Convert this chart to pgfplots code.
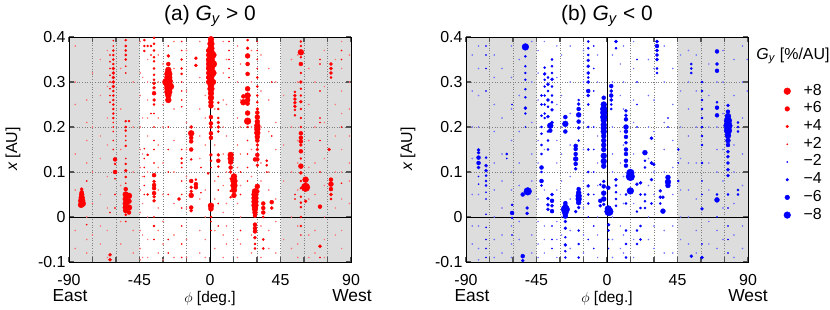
\documentclass[border=0pt]{standalone}
\usepackage{fontspec}
\setmainfont{Liberation Sans}
\usepackage{pgfplots}
\usepackage{pgfplotstable}
\pgfplotsset{compat=1.18}
\definecolor{shade}{RGB}{221,221,221}
\definecolor{tickc}{RGB}{85,85,85}
\definecolor{gridc}{RGB}{128,128,128}

% ---------- panel (a): G_y > 0 ----------
\pgfplotstableread[row sep=\\]{
p x g\\
-81.9 0.062 4\\ -81.9 0.055 5\\ -81.9 0.050 6\\ -81.9 0.043 7\\ -81.9 0.036 8\\ -81.5 0.030 8\\ -82.3 0.027 7\\
-78.7 0.08 2\\ -78.7 -0.017 2\\
-63.8 0.36 2\\ -63.8 0.345 2\\ -63.8 0.33 2\\ -63.8 0.315 2\\ -63.8 0.30 2\\ -63.8 0.285 2\\ -63.8 0.27 2\\ -63.8 0.255 2\\ -63.8 -0.084 4\\ -63.8 -0.095 4\\ -63.8 0.01 2\\
-61.7 0.392 2\\ -61.7 0.38 2\\ -61.7 0.37 3\\ -61.7 0.36 3\\ -61.7 0.35 3\\ -61.7 0.34 3\\ -61.7 0.33 4\\ -61.7 0.32 4\\ -61.7 0.31 4\\ -61.7 0.30 4\\ -61.7 0.29 4\\ -61.7 0.28 3\\ -61.7 0.27 3\\ -61.7 0.26 3\\ -61.7 0.25 3\\ -61.7 0.24 3\\ -61.7 0.23 3\\ -61.7 0.22 3\\ -61.7 0.21 2\\ -61.7 0.20 2\\ -61.7 0.19 2\\ -61.7 0.17 2\\ -61.7 0.15 2\\
-60.6 0.128 5\\ -60.6 0.118 3\\ -60.6 0.10 5\\ -60.6 0.085 2\\ -60.6 0.05 2\\ -60.6 0.02 2\\
-53.8 0.393 3\\ -53.8 0.38 3\\ -53.8 0.37 3\\ -53.8 0.36 3\\ -53.8 0.35 3\\ -53.8 0.335 2\\ -53.8 0.32 2\\ -53.8 0.213 3\\ -53.8 0.20 3\\ -53.8 0.192 3\\ -53.8 0.18 2\\ -53.8 0.17 2\\ -53.8 0.158 3\\ -53.8 0.13 2\\ -53.8 0.118 3\\ -53.8 0.103 4\\ -53.8 0.089 3\\ -53.8 0.075 2\\ -53.8 0.062 5\\ -53.8 0.05 7\\ -53.8 0.04 7\\ -53.8 0.03 7\\ -53.8 0.021 7\\ -53.8 0.014 6\\ -53.8 0.005 3\\ -53.8 -0.01 2\\
-51.7 0.213 3\\ -51.7 0.047 7\\ -51.7 0.035 6\\ -51.7 0.021 7\\ -51.7 0.01 5\\
-41.9 0.393 3\\ -41.9 0.38 3\\ -41.9 0.369 3\\ -41.9 0.152 2\\ -41.9 0.13 2\\ -41.9 0.11 2\\ -41.9 0.09 2\\ -41.9 0.07 2\\ -41.9 0.05 2\\
-39.8 0.38 3\\ -39.8 0.138 3\\ -39.8 0.05 3\\
-37.7 0.38 3\\ -37.7 0.36 2\\ -37.7 0.23 2\\
-35.7 0.398 3\\ -35.7 0.385 3\\ -35.7 0.37 3\\ -35.7 0.355 3\\ -35.7 0.346 3\\ -35.7 0.33 3\\ -35.7 0.316 3\\ -35.7 0.305 3\\ -35.7 0.297 4\\ -35.7 0.287 4\\ -35.7 0.275 5\\ -35.7 0.26 4\\ -35.7 0.25 3\\ -35.7 0.23 2\\ -35.7 0.2 2\\ -35.7 0.17 2\\ -35.7 0.15 2\\ -35.7 0.12 2\\ -35.7 0.093 5\\ -35.7 0.079 4\\ -35.7 0.071 5\\ -35.7 0.064 5\\ -35.7 0.053 5\\ -35.7 0.045 4\\ -35.7 0.036 4\\ -35.7 0.0 2\\ -35.7 -0.02 3\\ -35.7 -0.05 2\\
-26.6 0.358 4\\ -26.6 0.34 5\\ -26.6 0.327 7\\ -26.6 0.318 9\\ -26.6 0.31 9\\ -26.6 0.302 10\\ -26.6 0.294 10\\ -26.6 0.286 9\\ -26.6 0.278 9\\ -26.6 0.27 7\\ -26.6 0.26 7\\ -28.2 0.30 8\\ -25.2 0.29 8\\ -26.6 0.38 2\\ -26.6 0.2 2\\ -26.6 0.15 2\\ -26.6 0.1 2\\ -26.6 0.05 2\\ -26.6 -0.05 2\\ -26.6 -0.08 2\\
-18.1 0.39 2\\ -18.1 0.37 2\\ -18.1 0.35 3\\ -18.1 0.33 3\\ -18.1 0.318 3\\ -18.1 0.30 2\\ -18.1 0.28 2\\ -18.1 0.26 2\\ -18.1 0.245 2\\ -18.1 0.15 2\\ -18.1 0.13 3\\ -18.1 0.12 3\\ -18.1 0.11 2\\ -18.1 0.08 2\\ -18.1 0.05 2\\ -18.1 0.02 2\\ -18.1 -0.02 2\\ -18.1 -0.06 2\\ -18.1 -0.09 2\\
-19.8 0.04 4\\
-12.0 0.20 4\\ -12.0 0.186 7\\ -12.0 0.176 5\\ -12.0 0.168 5\\ -12.0 0.15 5\\ -12.0 0.128 3\\ -12.0 0.08 5\\ -12.0 0.066 4\\ -12.0 0.057 4\\ -12.0 0.048 6\\ -12.0 0.021 5\\ -12.0 0.014 4\\
-9.0 0.353 4\\ -9.0 0.337 4\\ -9.0 0.083 3\\ -9.0 0.073 5\\ -9.0 0.066 5\\
-5.8 0.11 2\\ -5.8 0.054 2\\
-1.2 0.37 5\\ -1.2 0.36 5\\ -1.2 0.35 5\\ -1.2 0.34 5\\ -1.2 0.33 5\\ -1.2 0.32 5\\ -1.2 0.31 5\\ -1.2 0.30 5\\ -1.2 0.097 3\\
0.6 0.395 7\\ 0.6 0.385 8\\ 0.6 0.375 8\\ 0.6 0.365 9\\ 0.6 0.355 9\\ 0.6 0.345 10\\ 0.6 0.335 10\\ 0.6 0.325 9\\ 0.6 0.315 9\\ 0.6 0.305 8\\ 0.6 0.295 8\\ 0.6 0.285 8\\ 0.6 0.275 7\\ 0.6 0.265 7\\ 0.6 0.255 6\\ 0.6 0.247 6\\ 0.6 0.222 5\\ 0.6 0.208 5\\ 0.6 0.2 4\\ 0.6 0.186 5\\ 0.6 0.176 5\\ 0.6 0.138 4\\ 0.6 0.125 3\\ 0.6 0.11 2\\ 0.6 0.025 7\\ 0.6 0.018 6\\ 0.6 0.0 3\\ 0.6 -0.01 2\\ 0.6 -0.03 2\\
2.2 0.36 7\\ 2.2 0.34 8\\ 2.2 0.32 7\\ 2.2 0.30 6\\
5.3 0.254 3\\ 5.3 0.24 3\\ 5.3 0.22 3\\ 5.3 0.21 4\\ 5.3 0.20 4\\ 5.3 0.19 3\\ 5.3 0.138 4\\ 5.3 0.125 5\\ 5.3 0.112 3\\ 5.3 0.09 2\\ 5.3 0.06 2\\ 5.3 0.03 2\\ 5.3 -0.02 2\\
12.1 0.39 2\\ 12.1 0.37 2\\ 12.1 0.35 2\\ 12.1 0.33 2\\ 12.1 0.31 2\\
13.2 0.138 7\\ 13.2 0.13 7\\ 13.2 0.122 6\\ 13.2 0.11 5\\ 13.2 0.10 4\\ 13.2 0.085 3\\ 13.2 0.058 3\\ 13.2 0.044 3\\
15.3 0.09 7\\ 15.3 0.08 8\\ 15.3 0.07 8\\ 15.3 0.06 7\\ 15.3 0.048 6\\
19.5 0.1 2\\ 19.5 0.05 2\\ 19.5 -0.03 2\\
21.3 0.268 5\\ 21.3 0.255 7\\
24.0 0.393 3\\ 24.0 0.375 4\\ 24.0 0.358 6\\ 24.0 0.34 5\\ 24.0 0.318 5\\ 24.0 0.285 6\\ 24.0 0.27 7\\ 24.0 0.26 6\\ 24.0 0.252 5\\ 24.0 0.231 6\\ 24.0 0.213 8\\ 24.0 0.2 3\\ 24.0 0.17 2\\ 24.0 0.14 2\\ 24.0 0.11 2\\ 24.0 0.08 2\\
30.2 0.39 2\\ 30.2 0.37 2\\ 30.2 0.35 2\\ 30.2 0.33 2\\ 30.2 0.31 3\\ 30.2 0.29 3\\ 30.2 0.27 3\\ 30.2 0.255 3\\ 30.2 0.24 4\\ 30.2 0.232 5\\ 30.2 0.222 6\\ 30.2 0.212 6\\ 30.2 0.203 7\\ 30.2 0.195 7\\ 30.2 0.187 7\\ 30.2 0.178 6\\ 30.2 0.17 5\\ 30.2 0.16 4\\ 30.2 0.15 4\\ 30.2 0.138 5\\ 30.2 0.128 5\\ 30.2 0.115 4\\ 30.2 0.068 6\\ 30.2 0.057 5\\
28.7 0.128 5\\ 28.7 0.057 7\\ 28.7 0.05 8\\ 28.7 0.042 8\\ 28.7 0.034 8\\ 28.7 0.026 8\\ 28.7 0.018 7\\ 28.7 0.01 6\\ 28.7 0.003 5\\ 28.7 -0.017 5\\ 28.7 -0.025 5\\ 28.7 -0.032 5\\ 28.7 -0.046 4\\ 28.7 -0.06 3\\ 28.7 -0.07 3\\
34.0 0.03 5\\ 34.0 0.02 5\\ 34.0 0.01 5\\ 34.0 0.0 3\\ 34.0 -0.05 3\\ 34.0 -0.07 3\\
36.2 0.125 3\\ 36.2 0.115 3\\ 36.2 0.1 2\\
39.4 0.033 5\\ 39.4 0.02 4\\ 39.4 0.18 2\\ 39.4 0.3 2\\
54.2 0.278 3\\ 54.2 0.27 4\\ 54.2 0.262 4\\ 54.2 0.254 4\\ 54.2 0.246 4\\ 54.2 0.238 3\\ 54.2 0.226 3\\ 54.2 0.05 2\\ 54.2 0.04 2\\
58.0 0.39 3\\ 58.0 0.38 3\\ 58.0 0.366 7\\ 58.0 0.355 3\\ 58.0 0.34 5\\ 58.0 0.32 3\\ 58.0 0.30 4\\ 58.0 0.285 3\\ 58.0 0.27 3\\ 58.0 0.256 4\\ 58.0 0.24 3\\ 58.0 0.22 3\\ 58.0 0.2 3\\ 58.0 0.186 5\\ 58.0 0.176 5\\ 58.0 0.168 5\\ 58.0 0.16 4\\ 58.0 0.146 5\\ 58.0 0.13 3\\ 58.0 0.113 6\\ 58.0 0.098 4\\ 58.0 0.08 3\\ 58.0 0.064 3\\ 58.0 0.045 3\\ 58.0 0.032 3\\ 58.0 0.022 3\\ 58.0 0.0 3\\ 58.0 -0.02 3\\ 58.0 -0.04 2\\
61.0 0.083 7\\ 61.0 0.066 10\\ 61.0 0.035 4\\
70.2 0.35 2\\ 70.2 0.34 2\\ 70.2 0.28 2\\ 70.2 0.22 2\\ 70.2 0.21 2\\ 70.2 0.17 2\\ 70.2 0.1 2\\ 70.2 0.023 5\\ 70.2 -0.065 4\\ 70.2 -0.09 2\\
76.0 0.15 4\\
77.2 0.34 4\\ 77.2 0.33 4\\ 77.2 0.32 4\\ 77.2 0.31 3\\ 77.2 0.083 5\\ 77.2 0.073 6\\ 77.2 0.062 5\\ 77.2 0.05 4\\ 77.2 0.04 3\\
84.0 0.37 2\\ 84.0 0.35 2\\ 84.0 0.2 2\\ 84.0 0.075 2\\
}\tabA

\pgfplotstableread[row sep=\\]{
p x\\
-86 0.38\\ -86 0.3\\ -86 0.25\\ -86 0.14\\ -86 0.06\\ -86 -0.03\\ -86 -0.07\\
-78.7 0.26\\ -78.7 0.21\\ -78.7 0.17\\ -78.7 0.12\\ -78.7 0.0\\ -78.7 -0.05\\ -78.7 -0.08\\
-75 0.32\\ -75 0.2\\ -75 0.1\\ -75 0.03\\ -75 -0.04\\
-70 0.35\\ -70 0.27\\ -70 0.18\\ -70 0.13\\ -70 0.05\\ -70 -0.02\\ -70 -0.06\\
-65.5 0.37\\ -65.5 0.29\\ -65.5 0.22\\ -65.5 0.16\\ -65.5 0.09\\ -65.5 0.02\\ -65.5 -0.03\\ -65.5 -0.09\\
-57 0.33\\ -57 0.24\\ -57 0.15\\ -57 0.07\\ -57 -0.01\\ -57 -0.06\\
-49 0.3\\ -49 0.2\\ -49 0.1\\ -49 -0.03\\ -49 -0.08\\
-44.5 0.39\\ -44.5 0.32\\ -44.5 0.27\\ -44.5 0.2\\ -44.5 0.15\\ -44.5 0.11\\ -44.5 0.06\\ -44.5 0.01\\ -44.5 -0.03\\ -44.5 -0.07\\ -44.5 -0.095\\
-43 0.31\\ -43 0.22\\ -43 0.14\\ -43 0.09\\ -43 0.03\\ -43 -0.04\\ -43 -0.09\\
-39.8 0.35\\ -39.8 0.3\\ -39.8 0.26\\ -39.8 0.22\\ -39.8 0.18\\ -39.8 0.1\\ -39.8 0.0\\ -39.8 -0.05\\ -39.8 -0.09\\
-33 0.36\\ -33 0.3\\ -33 0.22\\ -33 0.16\\ -33 0.11\\ -33 0.06\\ -33 0.02\\ -33 -0.03\\ -33 -0.08\\
-30 0.34\\ -30 0.25\\ -30 0.2\\ -30 0.12\\ -30 0.05\\ -30 -0.01\\ -30 -0.06\\ -30 -0.095\\
-23 0.39\\ -23 0.33\\ -23 0.24\\ -23 0.17\\ -23 0.1\\ -23 0.03\\ -23 -0.04\\ -23 -0.09\\
-15 0.37\\ -15 0.28\\ -15 0.21\\ -15 0.15\\ -15 0.09\\ -15 0.02\\ -15 -0.05\\ -15 -0.09\\
-6.5 0.39\\ -6.5 0.31\\ -6.5 0.24\\ -6.5 0.18\\ -6.5 0.13\\ -6.5 0.04\\ -6.5 -0.03\\ -6.5 -0.08\\
-3 0.27\\ -3 0.22\\ -3 0.16\\ -3 0.06\\ -3 0.0\\ -3 -0.05\\ -3 -0.09\\
3 0.24\\ 3 0.16\\ 3 0.08\\ 3 0.04\\ 3 -0.03\\ 3 -0.07\\
8.5 0.39\\ 8.5 0.32\\ 8.5 0.26\\ 8.5 0.2\\ 8.5 0.14\\ 8.5 0.07\\ 8.5 0.01\\ 8.5 -0.04\\ 8.5 -0.09\\
10.5 0.35\\ 10.5 0.25\\ 10.5 0.18\\ 10.5 0.1\\ 10.5 0.03\\ 10.5 -0.02\\ 10.5 -0.06\\
17.5 0.38\\ 17.5 0.3\\ 17.5 0.22\\ 17.5 0.16\\ 17.5 0.11\\ 17.5 0.03\\ 17.5 -0.05\\ 17.5 -0.09\\
19.5 0.34\\ 19.5 0.26\\ 19.5 0.2\\ 19.5 0.14\\ 19.5 0.07\\ 19.5 0.0\\ 19.5 -0.06\\
26.5 0.37\\ 26.5 0.3\\ 26.5 0.2\\ 26.5 0.15\\ 26.5 0.09\\ 26.5 -0.04\\ 26.5 -0.08\\
32.5 0.36\\ 32.5 0.28\\ 32.5 0.2\\ 32.5 0.12\\ 32.5 0.08\\ 32.5 -0.02\\ 32.5 -0.09\\
37.5 0.33\\ 37.5 0.26\\ 37.5 0.19\\ 37.5 0.1\\ 37.5 0.06\\ 37.5 -0.03\\ 37.5 -0.07\\
42 0.3\\ 42 0.21\\ 42 0.15\\ 42 0.04\\ 42 -0.01\\ 42 -0.08\\
47 0.27\\ 47 0.16\\ 47 0.08\\ 47 -0.05\\
52 0.35\\ 52 0.2\\ 52 0.1\\ 52 0.0\\ 52 -0.07\\
56 0.36\\ 56 0.3\\ 56 0.17\\ 56 0.12\\ 56 0.06\\ 56 -0.02\\ 56 -0.06\\ 56 -0.09\\
63 0.33\\ 63 0.25\\ 63 0.17\\ 63 0.11\\ 63 0.04\\ 63 -0.04\\ 63 -0.09\\
67 0.3\\ 67 0.2\\ 67 0.12\\ 67 0.05\\ 67 -0.03\\ 67 -0.08\\
73 0.37\\ 73 0.29\\ 73 0.21\\ 73 0.13\\ 73 0.07\\ 73 0.0\\ 73 -0.05\\ 73 -0.09\\
80 0.35\\ 80 0.25\\ 80 0.18\\ 80 0.1\\ 80 0.02\\ 80 -0.04\\
84 0.39\\ 84 0.33\\ 84 0.28\\ 84 0.23\\ 84 0.15\\ 84 0.1\\ 84 0.04\\ 84 -0.03\\ 84 -0.07\\
89 0.36\\ 89 0.3\\ 89 0.24\\ 89 0.18\\ 89 0.12\\ 89 0.08\\ 89 0.03\\
}\faintA

% ---------- panel (b): G_y < 0 ----------
\pgfplotstableread[row sep=\\]{
p x g\\
-82.0 0.149 4\\ -82.0 0.143 4\\ -82.0 0.132 5\\ -82.0 0.12 5\\ -82.0 0.11 4\\ -82.0 0.09 2\\ -82.0 0.073 2\\
-77.2 0.132 3\\ -77.2 0.114 4\\ -77.2 0.103 4\\ -77.2 0.092 3\\ -77.2 0.08 3\\ -77.2 0.07 3\\ -77.2 0.055 2\\ -77.2 0.04 2\\ -77.2 0.006 2\\ -77.2 -0.023 2\\ -77.2 -0.05 2\\ -77.2 -0.07 2\\ -77.2 -0.09 2\\ -77.2 0.38 2\\ -77.2 0.36 2\\ -77.2 0.33 2\\ -77.2 0.28 2\\
-64.0 0.14 3\\ -64.0 0.13 2\\
-60.6 0.027 3\\ -60.6 0.009 5\\ -60.6 -0.002 3\\ -60.6 -0.04 2\\ -60.6 0.25 2\\
-53.8 0.05 5\\ -53.8 -0.087 5\\ -53.8 -0.097 4\\
-52.1 0.378 8\\ -52.1 0.357 3\\ -52.1 0.335 3\\ -52.1 0.32 3\\ -52.1 0.305 3\\ -52.1 0.284 3\\ -52.1 0.266 3\\ -52.1 0.242 4\\ -52.1 0.23 3\\ -52.1 0.2 2\\
-50.6 0.057 9\\
-51.0 0.02 4\\ -51.0 0.008 4\\
-41.8 0.27 3\\ -41.8 0.25 3\\ -41.8 0.225 3\\ -41.8 0.2 3\\ -41.8 0.185 3\\ -41.8 0.16 3\\ -41.8 0.14 3\\ -41.8 0.11 5\\ -41.8 0.1 3\\ -41.8 0.08 5\\ -41.8 0.07 3\\
-39.8 0.332 3\\ -39.8 0.318 4\\ -39.8 0.305 3\\ -39.8 0.29 3\\ -39.8 0.27 3\\ -39.8 0.25 3\\ -39.8 0.23 3\\ -39.8 0.22 3\\
-37.7 0.31 3\\ -37.7 0.295 4\\ -37.7 0.28 3\\ -37.7 0.26 4\\ -37.7 0.245 3\\ -37.7 0.223 4\\ -37.7 0.19 3\\ -37.7 0.17 3\\ -37.7 0.15 3\\ -37.7 0.041 4\\ -37.7 0.027 4\\ -37.7 0.017 4\\
-36.2 0.203 7\\ -36.2 0.192 5\\
-35.1 0.35 3\\ -35.1 0.335 3\\ -35.1 0.32 3\\ -35.1 0.306 4\\ -35.1 0.29 3\\ -35.1 0.27 3\\ -35.1 0.255 3\\ -35.1 0.238 4\\ -35.1 0.21 4\\ -35.1 0.05 4\\ -35.1 0.036 5\\ -35.1 0.025 4\\ -35.1 0.013 5\\ -35.1 -0.02 2\\ -35.1 -0.05 2\\ -35.1 -0.07 2\\
-26.6 0.222 5\\ -26.6 0.207 7\\ -26.6 0.19 5\\ -26.6 0.031 5\\ -26.6 0.024 6\\ -26.6 0.017 10\\ -26.6 0.009 7\\ -26.6 0.002 6\\ -26.6 -0.01 4\\ -26.6 -0.025 4\\ -26.6 -0.045 3\\ -26.6 -0.062 4\\ -26.6 -0.076 3\\ -26.6 -0.09 3\\
-20.0 0.158 5\\ -20.0 0.151 5\\ -20.0 0.14 5\\ -20.0 0.129 6\\ -20.0 0.118 5\\ -20.0 0.107 4\\ -20.0 0.012 4\\
-18.1 0.26 3\\ -18.1 0.251 4\\ -18.1 0.24 5\\ -18.1 0.227 6\\ -18.1 0.212 5\\ -18.1 0.198 4\\ -18.1 0.17 3\\ -18.1 0.062 5\\ -18.1 0.054 6\\ -18.1 0.047 7\\ -18.1 0.04 7\\ -18.1 0.032 6\\ -18.1 0.021 4\\ -18.1 -0.03 3\\ -18.1 -0.06 3\\ -18.1 -0.09 3\\
-12.0 0.39 3\\ -12.0 0.375 3\\ -12.0 0.36 3\\ -12.0 0.348 4\\ -12.0 0.335 4\\ -12.0 0.32 4\\ -12.0 0.31 3\\ -12.0 0.3 4\\ -12.0 0.28 5\\ -12.0 0.27 4\\ -12.0 0.25 3\\ -12.0 0.2 3\\ -12.0 0.15 3\\ -12.0 0.1 3\\ -12.0 0.069 4\\ -12.0 0.05 3\\ -12.0 0.03 3\\ -12.0 0.0 2\\ -12.0 -0.05 2\\
-8.5 0.38 2\\ -8.5 0.33 2\\ -8.5 0.28 2\\ -8.5 0.2 2\\ -8.5 0.15 2\\ -8.5 0.1 2\\ -8.5 0.05 2\\ -8.5 -0.02 2\\ -8.5 -0.07 2\\
-2.1 0.265 5\\ -2.1 0.25 7\\ -2.1 0.24 8\\ -2.1 0.232 8\\ -2.1 0.222 8\\ -2.1 0.215 7\\ -2.1 0.205 7\\ -2.1 0.198 7\\ -2.1 0.19 7\\ -2.1 0.18 6\\ -2.1 0.17 6\\ -2.1 0.16 6\\ -2.1 0.15 6\\ -2.1 0.136 7\\ -2.1 0.124 7\\ -2.1 0.113 6\\ -2.1 0.079 4\\ -2.1 0.068 5\\ -2.1 0.053 6\\ -2.1 0.04 6\\ -2.1 0.028 4\\
-4.3 0.036 5\\ -4.3 0.025 4\\ -4.3 0.072 3\\
0.8 0.018 8\\ 1.2 0.012 10\\ 0.8 0.065 5\\
1.0 -0.017 4\\ 1.0 -0.03 3\\ 1.0 -0.05 2\\ 1.0 -0.07 2\\
2.7 0.291 5\\ 2.7 0.28 4\\ 2.7 0.27 5\\ 2.7 0.26 4\\ 2.7 0.25 3\\ 2.7 0.24 3\\
5.7 0.39 4\\ 5.7 0.375 3\\ 5.7 0.083 4\\ 5.7 0.07 3\\ 5.7 0.055 3\\ 5.7 0.04 3\\ 5.7 0.025 3\\
12.1 0.236 4\\ 12.1 0.226 4\\ 12.1 0.217 5\\ 12.1 0.2 6\\ 12.1 0.19 5\\ 12.1 0.178 5\\ 12.1 0.165 4\\ 12.1 0.15 5\\ 12.1 0.14 5\\ 12.1 0.125 5\\ 12.1 0.114 5\\ 12.1 0.05 3\\ 12.1 0.03 3\\ 12.1 -0.03 3\\ 12.1 -0.06 3\\ 12.1 -0.09 3\\
14.9 0.098 9\\ 14.9 0.09 10\\ 14.9 0.058 8\\
19.1 0.35 2\\ 19.1 0.3 2\\ 19.1 0.25 2\\ 19.1 0.2 2\\ 19.1 0.073 4\\ 19.1 0.012 3\\ 19.1 -0.03 3\\ 19.1 -0.06 3\\
21.4 0.076 4\\ 21.4 0.05 3\\ 21.4 0.02 3\\ 21.4 -0.02 3\\ 21.4 -0.05 3\\
24.2 0.143 6\\ 24.2 0.125 3\\ 24.2 0.11 3\\ 24.2 0.05 3\\ 24.2 0.035 3\\ 24.2 0.02 3\\
28.4 0.175 4\\ 28.4 0.12 4\\ 28.4 0.083 4\\ 28.4 0.03 3\\
29.8 0.117 4\\
31.9 0.39 4\\ 31.9 0.38 5\\ 31.9 0.37 4\\ 31.9 0.36 4\\ 31.9 0.35 4\\ 31.9 0.33 3\\ 31.9 0.32 3\\
34.0 0.058 4\\ 34.0 0.044 4\\ 34.0 0.03 3\\
35.7 0.044 4\\ 35.7 0.013 6\\
38.9 0.088 6\\ 38.9 0.078 7\\ 38.9 0.07 6\\ 38.9 0.22 2\\ 38.9 0.2 2\\
45.5 0.15 3\\ 45.5 0.12 2\\ 45.5 0.08 3\\
53.8 0.34 3\\ 53.8 0.33 3\\ 53.8 0.32 3\\ 53.8 -0.087 4\\
60.6 0.3 3\\ 60.6 0.28 3\\ 60.6 0.26 3\\ 60.6 0.24 3\\ 60.6 0.22 3\\ 60.6 0.2 3\\ 60.6 0.18 3\\ 60.6 0.16 3\\ 60.6 0.12 3\\ 60.6 0.08 2\\ 60.6 0.05 2\\ 60.6 0.018 4\\ 60.6 -0.06 2\\ 60.6 -0.09 4\\
70.2 0.368 5\\ 70.2 0.34 4\\ 70.2 0.325 5\\ 70.2 0.255 3\\ 70.2 0.243 5\\ 70.2 0.226 5\\ 70.2 0.05 3\\ 70.2 0.038 6\\ 70.2 0.0 2\\
77.2 0.248 4\\ 77.2 0.234 5\\ 77.2 0.224 7\\ 77.2 0.214 9\\ 77.2 0.203 10\\ 77.2 0.192 9\\ 77.2 0.181 7\\ 77.2 0.17 6\\ 77.2 0.16 5\\ 77.2 0.145 4\\ 77.2 0.134 4\\ 77.2 0.12 4\\ 77.2 0.105 4\\ 77.2 0.092 4\\ 77.2 0.05 3\\ 77.2 0.02 2\\ 77.2 -0.02 2\\ 77.2 -0.05 2\\ 77.2 -0.08 2\\
83.6 0.2 3\\ 83.6 0.21 3\\ 83.6 0.19 3\\ 83.6 0.06 3\\ 83.6 0.05 3\\
}\tabB

\pgfplotstableread[row sep=\\]{
p x\\
-86 0.36\\ -86 0.28\\ -86 0.2\\ -86 0.13\\ -86 0.05\\ -86 -0.02\\ -86 -0.06\\
-82 0.38\\ -82 0.33\\ -82 0.27\\ -82 0.2\\ -82 0.05\\ -82 -0.02\\ -82 -0.07\\ -82 -0.095\\
-72 0.36\\ -72 0.31\\ -72 0.25\\ -72 0.19\\ -72 0.12\\ -72 0.06\\ -72 0.0\\ -72 -0.05\\ -72 -0.09\\
-67 0.33\\ -67 0.22\\ -67 0.14\\ -67 0.08\\ -67 0.02\\ -67 -0.04\\ -67 -0.08\\
-61 0.38\\ -61 0.31\\ -61 0.24\\ -61 0.17\\ -61 0.1\\ -61 0.06\\ -61 -0.02\\ -61 -0.06\\ -61 -0.09\\
-56 0.35\\ -56 0.27\\ -56 0.19\\ -56 0.12\\ -56 0.07\\ -56 -0.01\\ -56 -0.05\\
-48 0.39\\ -48 0.3\\ -48 0.21\\ -48 0.14\\ -48 0.08\\ -48 -0.04\\ -48 -0.08\\
-44 0.37\\ -44 0.32\\ -44 0.26\\ -44 0.17\\ -44 0.12\\ -44 0.04\\ -44 -0.01\\ -44 -0.06\\ -44 -0.09\\
-40 0.39\\ -40 0.15\\ -40 0.06\\ -40 -0.02\\ -40 -0.05\\ -40 -0.08\\
-32 0.38\\ -32 0.31\\ -32 0.25\\ -32 0.17\\ -32 0.12\\ -32 0.06\\ -32 -0.01\\ -32 -0.05\\ -32 -0.09\\
-29 0.36\\ -29 0.27\\ -29 0.2\\ -29 0.14\\ -29 0.08\\ -29 0.0\\ -29 -0.04\\
-23.5 0.38\\ -23.5 0.3\\ -23.5 0.23\\ -23.5 0.16\\ -23.5 0.09\\ -23.5 0.04\\ -23.5 -0.03\\ -23.5 -0.07\\
-15 0.37\\ -15 0.3\\ -15 0.21\\ -15 0.15\\ -15 0.08\\ -15 0.02\\ -15 -0.04\\ -15 -0.08\\
-6 0.36\\ -6 0.3\\ -6 0.18\\ -6 0.12\\ -6 0.07\\ -6 0.0\\ -6 -0.04\\ -6 -0.09\\
3.5 0.36\\ 3.5 0.3\\ 3.5 0.2\\ 3.5 0.14\\ 3.5 0.1\\ 3.5 0.0\\ 3.5 -0.05\\ 3.5 -0.09\\
8.5 0.34\\ 8.5 0.27\\ 8.5 0.19\\ 8.5 0.12\\ 8.5 0.05\\ 8.5 -0.02\\ 8.5 -0.07\\
10.5 0.38\\ 10.5 0.3\\ 10.5 0.24\\ 10.5 0.16\\ 10.5 0.09\\ 10.5 0.03\\ 10.5 -0.04\\ 10.5 -0.08\\
17 0.39\\ 17 0.33\\ 17 0.26\\ 17 0.21\\ 17 0.14\\ 17 0.09\\ 17 0.03\\ 17 -0.05\\ 17 -0.09\\
26.5 0.35\\ 26.5 0.27\\ 26.5 0.2\\ 26.5 0.13\\ 26.5 0.07\\ 26.5 0.0\\ 26.5 -0.05\\
30 0.33\\ 30 0.26\\ 30 0.19\\ 30 0.1\\ 30 0.05\\ 30 -0.02\\ 30 -0.07\\
36.5 0.38\\ 36.5 0.3\\ 36.5 0.21\\ 36.5 0.15\\ 36.5 0.1\\ 36.5 -0.03\\ 36.5 -0.08\\
42 0.33\\ 42 0.25\\ 42 0.17\\ 42 0.11\\ 42 0.05\\ 42 -0.02\\ 42 -0.08\\
47 0.36\\ 47 0.28\\ 47 0.2\\ 47 0.13\\ 47 0.06\\ 47 0.0\\ 47 -0.05\\
52 0.37\\ 52 0.3\\ 52 0.24\\ 52 0.18\\ 52 0.12\\ 52 0.06\\ 52 0.0\\ 52 -0.06\\
57 0.36\\ 57 0.28\\ 57 0.2\\ 57 0.12\\ 57 0.04\\ 57 -0.03\\ 57 -0.08\\
65 0.34\\ 65 0.27\\ 65 0.2\\ 65 0.12\\ 65 0.06\\ 65 -0.01\\ 65 -0.06\\
70.2 0.3\\ 70.2 0.2\\ 70.2 0.15\\ 70.2 0.1\\ 70.2 -0.03\\ 70.2 -0.07\\
74 0.37\\ 74 0.3\\ 74 0.23\\ 74 0.15\\ 74 0.08\\ 74 0.02\\ 74 -0.05\\
81 0.35\\ 81 0.27\\ 81 0.16\\ 81 0.1\\ 81 0.03\\ 81 -0.04\\ 81 -0.09\\
86.5 0.38\\ 86.5 0.3\\ 86.5 0.22\\ 86.5 0.14\\ 86.5 0.07\\ 86.5 -0.02\\ 86.5 -0.07\\
89.5 0.35\\ 89.5 0.28\\
}\faintB

\pgfplotsset{
  myax/.style={
    anchor=south west, scale only axis, width=282bp, height=225bp,
    xmin=-90, xmax=90, ymin=-0.1, ymax=0.4,
    xtick={-90,-45,0,45,90}, xticklabels={-90,-45,0,45,90},
    minor xtick={-75,-60,-30,-15,15,30,60,75},
    ytick={-0.1,0,0.1,0.2,0.3,0.4}, yticklabels={-0.1,0,0.1,0.2,0.3,0.4},
    grid=both,
    major grid style={gridc, dash pattern=on 1bp off 1.6bp, line width=0.8bp},
    minor grid style={gridc, dash pattern=on 1bp off 1.6bp, line width=0.8bp},
    major tick length=5bp, minor tick length=5bp,
    every tick/.style={tickc, line width=1.6bp},
    axis line style={black, line width=1bp},
    ticklabel style={font=\fontsize{16}{18}\selectfont},
    xticklabel style={yshift=-9bp},
    set layers,
  },
  bub/.style={scatter, only marks, mark=*, forget plot,
    scatter/use mapped color={draw=#1, fill=#1},
    visualization depends on={max(0.35,0.47*\thisrow{g}-0.35) \as \ms},
    scatter/@pre marker code/.append style={/tikz/mark size=\ms}},
  faint/.style={only marks, mark=*, mark size=0.55, #1!55, forget plot},
  shadeplot/.style={fill=shade, draw=none, forget plot, on layer=axis background},
}

\begin{document}
\begin{tikzpicture}[x=1bp,y=1bp]

% ----- panel (a)
\begin{axis}[myax, at={(69bp,47bp)}]
\addplot[shadeplot] coordinates {(-90,-0.1) (-45,-0.1) (-45,0.4) (-90,0.4) (-90,-0.1)};
\addplot[shadeplot] coordinates {(45,-0.1) (90,-0.1) (90,0.4) (45,0.4) (45,-0.1)};
\draw[black, line width=1bp] (axis cs:-90,0) -- (axis cs:90,0);
\draw[black, line width=1bp] (axis cs:0,-0.1) -- (axis cs:0,0.4);
\addplot[faint=red] table[x=p,y=x] {\faintA};
\addplot[bub=red] table[x=p,y=x] {\tabA};
\end{axis}

% ----- panel (b)
\begin{axis}[myax, at={(466bp,47bp)},
  legend style={at={(1.116,0.80)}, anchor=north west, draw=none, fill=none,
    font=\fontsize{16}{18}\selectfont, column sep=13bp, row sep=3.7bp,
    nodes={inner sep=0pt, text height=11bp, text depth=3bp}},
  legend cell align=left]
\addplot[shadeplot] coordinates {(-90,-0.1) (-45,-0.1) (-45,0.4) (-90,0.4) (-90,-0.1)};
\addplot[shadeplot] coordinates {(45,-0.1) (90,-0.1) (90,0.4) (45,0.4) (45,-0.1)};
\draw[black, line width=1bp] (axis cs:-90,0) -- (axis cs:90,0);
\draw[black, line width=1bp] (axis cs:0,-0.1) -- (axis cs:0,0.4);
\addplot[faint=blue] table[x=p,y=x] {\faintB};
\addplot[bub=blue] table[x=p,y=x] {\tabB};
\addlegendimage{only marks, mark=*, red, mark size=3.35}\addlegendentry{+8}
\addlegendimage{only marks, mark=*, red, mark size=2.35}\addlegendentry{+6}
\addlegendimage{only marks, mark=*, red, mark size=1.35}\addlegendentry{+4}
\addlegendimage{only marks, mark=*, red, mark size=0.55}\addlegendentry{+2}
\addlegendimage{only marks, mark=*, blue, mark size=0.55}\addlegendentry{−2}
\addlegendimage{only marks, mark=*, blue, mark size=1.35}\addlegendentry{−4}
\addlegendimage{only marks, mark=*, blue, mark size=2.35}\addlegendentry{−6}
\addlegendimage{only marks, mark=*, blue, mark size=3.35}\addlegendentry{−8}
\end{axis}

% ----- texts
\node[font=\fontsize{21}{24}\selectfont] at (210,293) {(a) \textit{G}\textsubscript{\textit{y}} > 0};
\node[font=\fontsize{21}{24}\selectfont] at (607,293) {(b) \textit{G}\textsubscript{\textit{y}} < 0};
\node[font=\fontsize{16}{18}\selectfont, rotate=90] at (13,160) {\textit{x} [AU]};
\node[font=\fontsize{16}{18}\selectfont, rotate=90] at (408,160) {\textit{x} [AU]};
\node[font=\fontsize{15.5}{18}\selectfont] at (210,10) {$\phi$ [deg.]};
\node[font=\fontsize{15.5}{18}\selectfont] at (607,10) {$\phi$ [deg.]};
\node[font=\fontsize{17.5}{20}\selectfont] at (70,13) {East};
\node[font=\fontsize{17.5}{20}\selectfont] at (352,13) {West};
\node[font=\fontsize{17.5}{20}\selectfont] at (472,13) {East};
\node[font=\fontsize{17.5}{20}\selectfont] at (748,13) {West};
\node[font=\fontsize{16}{18}\selectfont] at (793,253) {\textit{G}\textsubscript{\textit{y}} [\%/AU]};
\pgfresetboundingbox
\path[use as bounding box] (0,0) rectangle (830,309);
\end{tikzpicture}
\end{document}
